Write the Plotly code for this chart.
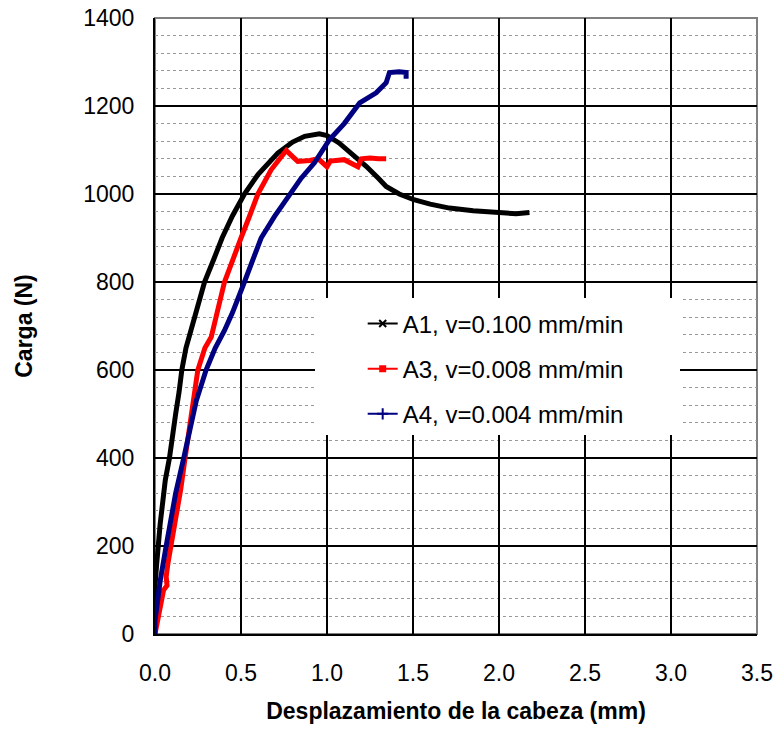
import plotly.graph_objects as go

# A1, v=0.100 mm/min
a1_x = [0.0, 0.0, 0.01, 0.016, 0.03, 0.045, 0.06, 0.084, 0.10, 0.12, 0.14, 0.156, 0.18, 0.21, 0.25, 0.288,
        0.34, 0.39, 0.45, 0.52, 0.60, 0.714, 0.80, 0.87, 0.956, 1.0, 1.07, 1.15, 1.228, 1.30, 1.344, 1.42,
        1.505, 1.60, 1.712, 1.85, 2.0, 2.1, 2.177]
a1_y = [60, 110, 160, 200, 250, 300, 350, 400, 450, 500, 550, 600, 650, 690, 750, 800,
        850, 900, 950, 1000, 1045, 1093, 1118, 1131, 1137, 1133, 1116, 1090, 1063, 1035, 1017, 1000,
        987, 977, 968, 962, 957, 955, 958]

# A3, v=0.008 mm/min
a3_x = [0.0, 0.02, 0.03, 0.05, 0.07, 0.065, 0.075, 0.094, 0.12, 0.15, 0.175, 0.20, 0.225, 0.249, 0.29, 0.327,
        0.404, 0.45, 0.50, 0.55, 0.598, 0.675, 0.72, 0.763, 0.80, 0.83, 0.90, 0.95, 1.0, 1.02, 1.10, 1.18,
        1.20, 1.25, 1.30, 1.344]
a3_y = [0, 40, 60, 100, 110, 130, 160, 200, 260, 330, 400, 470, 540, 600, 650, 675,
        800, 850, 900, 950, 1000, 1055, 1080, 1099, 1085, 1074, 1076, 1080, 1062, 1075, 1078, 1062,
        1080, 1082, 1080, 1080]

# A4, v=0.004 mm/min
a4_x = [0.0, 0.0, 0.01, 0.03, 0.065, 0.09, 0.12, 0.167, 0.20, 0.24, 0.297, 0.35, 0.404, 0.45, 0.52, 0.57,
        0.617, 0.695, 0.74, 0.79, 0.85, 0.927, 0.98, 1.015, 1.10, 1.19, 1.286, 1.344, 1.363, 1.42, 1.46, 1.46]
a4_y = [0, 30, 60, 120, 200, 260, 320, 400, 460, 530, 600, 650, 690, 730, 800, 850,
        900, 949, 975, 1000, 1036, 1071, 1100, 1124, 1160, 1207, 1230, 1253, 1276, 1278, 1276, 1262]

names = ["A1, v=0.100 mm/min", "A3, v=0.008 mm/min", "A4, v=0.004 mm/min"]
x_ticks = [0.0, 0.5, 1.0, 1.5, 2.0, 2.5, 3.0, 3.5]
y_ticks = [0, 200, 400, 600, 800, 1000, 1200, 1400]

fig = go.Figure()
series = [(a1_x, a1_y, "#000000", "x-thin", 7), (a3_x, a3_y, "#ff0000", "square", 5),
          (a4_x, a4_y, "#000080", "cross-thin", 8)]
for i, (xs, ys, col, sym, ms) in enumerate(series):
    fig.add_trace(go.Scatter(
        x=xs, y=ys, name=names[i], mode="lines", legendgroup=str(i), showlegend=False,
        line=dict(color=col, width=5),
    ))
for i, (xs, ys, col, sym, ms) in enumerate(series):
    # legend entries: thin line with a marker, as in the original key
    fig.add_trace(go.Scatter(
        x=[None], y=[None], name=names[i], mode="lines+markers", legendgroup=str(i),
        line=dict(color=col, width=2),
        marker=dict(symbol=sym, size=ms, color=col, line=dict(color=col, width=2)),
    ))

font = "Liberation Sans, Arial, sans-serif"
fig.update_layout(
    width=777, height=729,
    margin=dict(l=155, r=20, t=18, b=95),
    paper_bgcolor="white", plot_bgcolor="white",
    font=dict(family=font, color="black"),
    showlegend=True,
    legend=dict(x=0.345, y=0.540, xanchor="left", yanchor="top",
                bgcolor="rgba(0,0,0,0)", borderwidth=0, font=dict(size=24, family=font),
                tracegroupgap=11, traceorder="grouped"),
    xaxis=dict(range=[0, 3.5], tickvals=x_ticks, ticktext=[f"{v:.1f}" for v in x_ticks],
               showgrid=True, gridcolor="black", gridwidth=2, zeroline=False,
               showline=True, linecolor="black", linewidth=2, automargin=False,
               tickfont=dict(size=23), ticklabelstandoff=17, ticklabeloverflow="allow",
               title=dict(text="<b>Desplazamiento de la cabeza (mm)</b>", font=dict(size=23), standoff=18)),
    yaxis=dict(range=[0, 1400], tickvals=y_ticks, automargin=False,
               showgrid=True, gridcolor="black", gridwidth=2, zeroline=False,
               showline=True, linecolor="black", linewidth=2,
               minor=dict(dtick=40, showgrid=True, gridcolor="#999999", gridwidth=1, griddash="dot"),
               tickfont=dict(size=23), ticklabelstandoff=14, ticklabeloverflow="allow",
               title=dict(text="<b>Carga (N)</b>", font=dict(size=23), standoff=44)),
)
fig.add_shape(type="rect", xref="paper", yref="paper", x0=0, y0=0, x1=1, y1=1,
              line=dict(color="#808080", width=2), layer="between")
# white key box hiding the grid behind the legend
fig.add_shape(type="rect", xref="paper", yref="paper",
              x0=(315 - 155) / 602, x1=(680 - 155) / 602,
              y0=(634 - 435) / 616, y1=(634 - 298) / 616,
              fillcolor="white", line=dict(width=0), layer="above")
fig.write_html("out.html", config={"displayModeBar": False},
               post_script="document.body.style.margin='0px';")
